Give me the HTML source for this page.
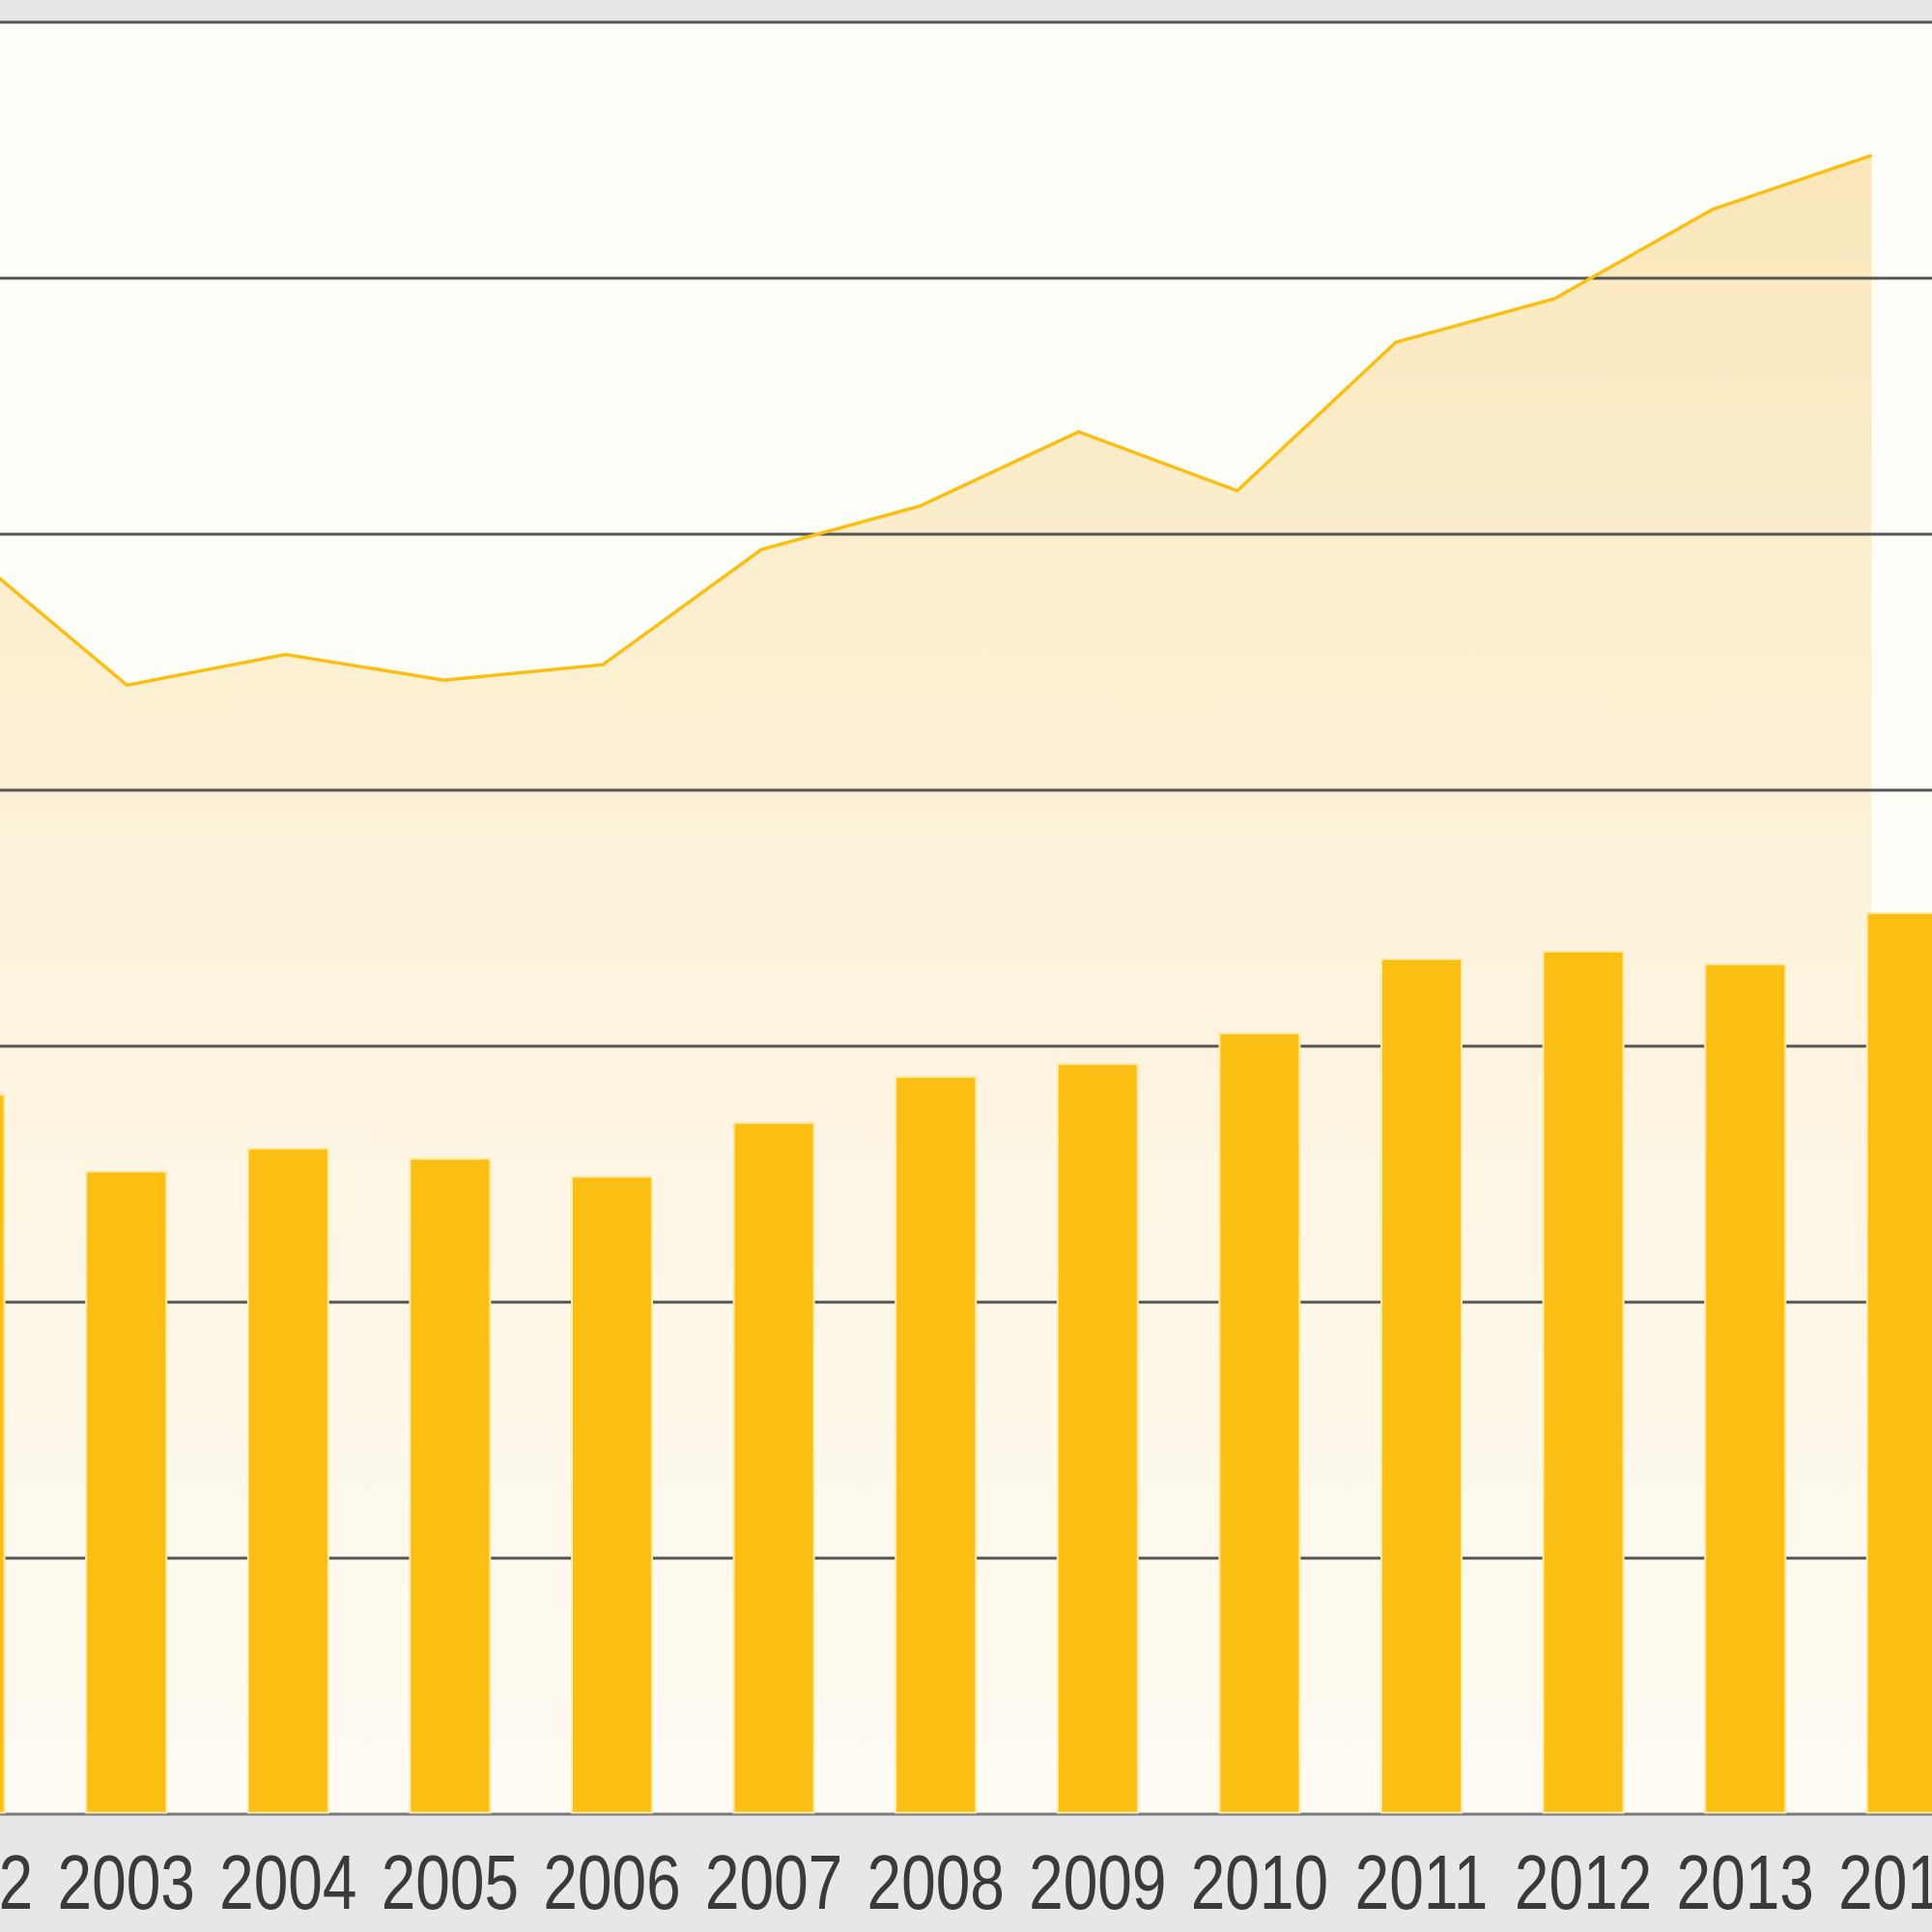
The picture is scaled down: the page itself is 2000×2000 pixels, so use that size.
<!DOCTYPE html>
<html><head><meta charset="utf-8"><style>
html,body{margin:0;padding:0;width:2000px;height:2000px;overflow:hidden;background:#e7e7e9}
svg{display:block}
text{font-family:"Liberation Sans",sans-serif}
</style></head><body>
<svg id="chart" width="2000" height="2000" viewBox="0 0 2000 2000" xmlns="http://www.w3.org/2000/svg">
<defs>
<linearGradient id="areaGrad" x1="0" y1="0" x2="0" y2="1">
<stop offset="0" stop-color="#f9e0a6" stop-opacity="0.75"/>
<stop offset="1" stop-color="#fdf4e6" stop-opacity="0.3"/>
</linearGradient>
</defs>
<rect x="0" y="0" width="2000" height="23" fill="#e7e7e9"/>
<rect x="0" y="23" width="2000" height="1855" fill="#fefef8"/>
<rect x="0" y="1878" width="2000" height="122" fill="#e7e7e9"/>
<g id="area"></g>
<g id="grid"></g>
<g id="bars"></g>
<g id="line"></g>
<g id="labels"></g>
</svg>
<script>
const years = ["2002","2003","2004","2005","2006","2007","2008","2009","2010","2011","2012","2013","2014"];
const barValues = [2.81,2.51,2.60,2.56,2.49,2.70,2.88,2.93,3.05,3.34,3.37,3.32,3.52];
const lineValues = [4.93,4.41,4.53,4.43,4.49,4.94,5.11,5.40,5.17,5.75,5.92,6.27,6.48];
const gridTicks = [0,1,2,3,4,5,6,7];

const NS = "http://www.w3.org/2000/svg";
const y = v => 1878 - v * 265;
const barX = i => 130.7 + (i - 1) * 167.6;
const lineX = i => 131.4 + (i - 1) * 164.2;
const BW = 83;
function mk(tag, attrs, parent){const e=document.createElementNS(NS,tag);for(const k in attrs)e.setAttribute(k,attrs[k]);parent.appendChild(e);return e;}

// area
const pts = lineValues.map((v,i)=>lineX(i).toFixed(1)+","+y(v).toFixed(1));
const last = lineX(lineValues.length-1).toFixed(1);
const area = mk("polygon",{points:lineX(0).toFixed(1)+",1878 "+pts.join(" ")+" "+last+",1878",fill:"url(#areaGrad)"},document.getElementById("area"));



// grid
gridTicks.forEach(t=>{
  const g = mk("line",{x1:0,x2:2000,y1:y(t),y2:y(t),stroke:t===0?"#7a7a7a":"#555",'stroke-width':3},document.getElementById("grid"));
  
  
});

// bars
barValues.forEach((v,i)=>{
  const r = mk("rect",{x:barX(i)-BW/2,y:y(v),width:BW,height:1878-y(v)-1.5,fill:"#fbbf14",stroke:"#fde9a8",'stroke-width':2},document.getElementById("bars"));
  
  
});

// line
const pl = mk("polyline",{points:pts.join(" "),fill:"none",stroke:"#fbbf14",'stroke-width':3.5,'stroke-linejoin':"miter"},document.getElementById("line"));



// labels
years.forEach((yr,i)=>{
  const cx = barX(i);
  const t = mk("text",{x:0,y:0,'font-size':80,fill:"#3a3a3a",'text-anchor':"middle",transform:"translate("+cx.toFixed(1)+",1976) scale(0.8,1)"},document.getElementById("labels"));
  t.textContent = yr;
  
  
});
</script>
</body></html>
